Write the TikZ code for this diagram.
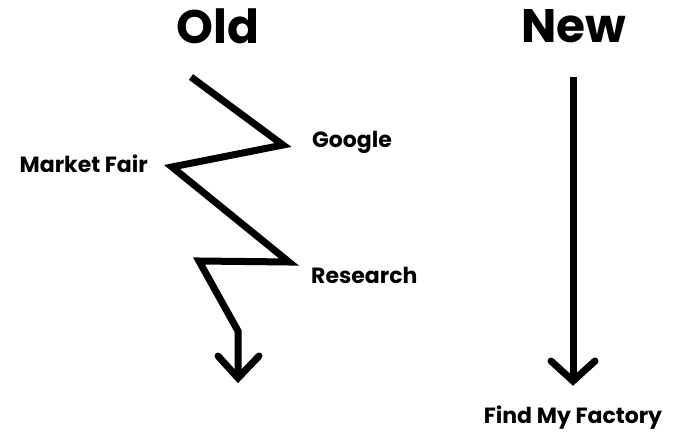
\documentclass[tikz,border=0pt]{standalone}
\usepackage{fontspec}
\setmainfont{Poppins}[BoldFont={* Bold}]
\begin{document}
\begin{tikzpicture}[x=1pt,y=-1pt,
  line/.style={line width=7pt,line join=miter,line cap=butt},
  tip/.style={line width=7pt,line cap=round,line join=miter},
  title/.style={font=\bfseries\fontsize{47}{50}\selectfont,inner sep=0pt},
  lbl/.style={font=\bfseries\fontsize{22}{24}\selectfont,inner sep=0pt}]
\useasboundingbox (0,0) rectangle (686,433);
\node[title] (old) at (218,26) {Old};
\node[title] (new) at (574,26) {New};
\node[lbl,anchor=west] (google) at (312,142) {Google};
\node[lbl,anchor=east] (fair) at (148,164) {Market Fair};
\node[lbl,anchor=west] (research) at (311,275) {Research};
\node[lbl] (factory) at (573,418) {Find My Factory};
\coordinate (a0) at (191,77);
\coordinate (a1) at (283,145);
\coordinate (a2) at (172,167);
\coordinate (a3) at (289,262);
\coordinate (a4) at (199,261);
\coordinate (a5) at (238,331);
\coordinate (a6) at (238,378);
\draw[line] (a0) -- (a1) -- (a2) -- (a3) -- (a4) -- (a5) -- (a6);
\draw[tip] (218,356) -- (a6) -- (259,356);
\coordinate (b0) at (573,77);
\coordinate (b1) at (573,381);
\draw[line] (b0) -- (b1);
\draw[tip] (551,361) -- (b1) -- (595,361);
\end{tikzpicture}
\end{document}
